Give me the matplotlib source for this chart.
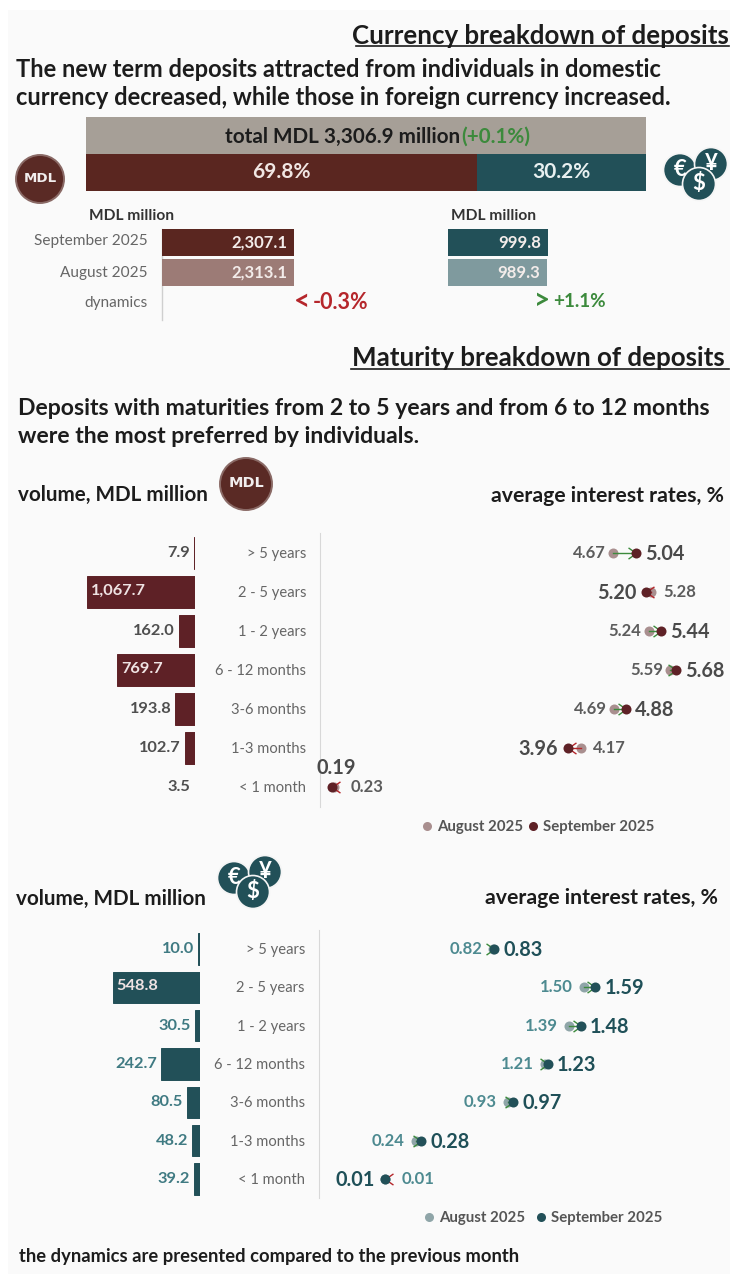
import matplotlib
matplotlib.use("Agg")
import matplotlib.pyplot as plt
from matplotlib.lines import Line2D
from matplotlib.patches import Circle, Rectangle
from matplotlib.path import Path

plt.rcParams['font.family'] = ['Lato', 'DejaVu Sans']

# ---------- data ----------
share_labels = ["MDL", "foreign currency"]
share_values = [69.8, 30.2]
total_text = "total MDL 3,306.9 million"
total_change = "(+0.1%)"
months = ["September 2025", "August 2025"]
mdl_volume = [2307.1, 2313.1]
fx_volume = [999.8, 989.3]
maturities = ["> 5 years", "2 - 5 years", "1 - 2 years", "6 - 12 months",
              "3-6 months", "1-3 months", "< 1 month"]
mdl_maturity_volume = [7.9, 1067.7, 162.0, 769.7, 193.8, 102.7, 3.5]
fx_maturity_volume = [10.0, 548.8, 30.5, 242.7, 80.5, 48.2, 39.2]
mdl_rate_aug = [4.67, 5.28, 5.24, 5.59, 4.69, 4.17, 0.23]
mdl_rate_sep = [5.04, 5.20, 5.44, 5.68, 4.88, 3.96, 0.19]
fx_rate_aug = [0.82, 1.50, 1.39, 1.21, 0.93, 0.24, 0.01]
fx_rate_sep = [0.83, 1.59, 1.48, 1.23, 0.97, 0.28, 0.01]

# ---------- colours ----------
MAROON = "#5A2620"; MAROON2 = "#5E2126"; MAROON_L = "#9C7B76"; MAROON_D = "#A98F8F"
TEAL = "#225058"; TEAL_L = "#7F9A9E"; TEAL_D = "#8FA5A8"; TAUPE = "#A69F97"
GREY = "#666666"; DARK = "#1c1c1c"; UP = "#3C8A3C"; DOWN = "#B5262B"; BG = "#FAFAFA"

W, H = 730, 1274
fig = plt.figure(figsize=(W / 100, H / 100), dpi=100, facecolor="white")


def axes_px(l, t, r, b, **kw):
    ax = fig.add_axes([l / W, 1 - b / H, (r - l) / W, (b - t) / H], **kw)
    ax.patch.set_alpha(0)
    ax.set_xticks([]); ax.set_yticks([])
    for s in ax.spines.values():
        s.set_visible(False)
    return ax


bg = axes_px(0, 0, W, H, zorder=1)
bg.set_xlim(0, W); bg.set_ylim(H, 0)
bg.add_patch(Rectangle((8, 10), W - 8, H - 10, color=BG, lw=0))


def T(x, y, s, size=12, weight="normal", color=DARK, ha="left"):
    return bg.text(x, y + 1.5, s, fontsize=size, fontweight=weight, color=color, ha=ha, va="center")


T(729, 35, "Currency breakdown of deposits", 18.6, "bold", ha="right")
bg.plot([356, 729], [46, 46], color=DARK, lw=1.2)
T(16, 68, "The new term deposits attracted from individuals in domestic", 17, "bold")
T(16, 96, "currency decreased, while those in foreign currency increased.", 17, "bold")
T(725, 357, "Maturity breakdown of deposits", 18.6, "bold", ha="right")
bg.plot([351, 729], [369, 369], color=DARK, lw=1.2)
T(18, 407, "Deposits with maturities from 2 to 5 years and from 6 to 12 months", 16.6, "bold")
T(18, 435, "were the most preferred by individuals.", 16.6, "bold")
T(18, 493, "volume, MDL million", 14.9, "bold")
T(724, 495, "average interest rates, %", 15.3, "bold", ha="right")
T(16, 897, "volume, MDL million", 14.9, "bold")
T(718, 896, "average interest rates, %", 15.3, "bold", ha="right")
T(19, 1255, "the dynamics are presented compared to the previous month", 13.2, "bold")
T(89, 214, "MDL million", 11.2, "bold", color="#333333")
T(451, 214, "MDL million", 11.2, "bold", color="#333333")
T(148, 240, months[0], 11.1, color=GREY, ha="right")
T(148, 271, months[1], 11.1, color=GREY, ha="right")
T(148, 302, "dynamics", 11.1, color=GREY, ha="right")
bg.plot([162, 162], [229, 320], color="#cfcfcf", lw=1)
T(294, 301, "<", 20, "bold", color=DOWN)
T(313, 301, "-0.3%", 15.5, "bold", color=DOWN)
T(534, 300, ">", 20, "bold", color=UP)
T(553, 300, "+1.1%", 13.6, "bold", color=UP)


def coin_mdl(x, y, r):
    bg.add_patch(Circle((x, y), r, fc="#5A2A25", ec="#8a6a66", lw=1.4))
    bg.text(x, y - r * 0.02, "MDL", color="#f2eeee", fontsize=r * 0.4, fontweight="bold",
            family="DejaVu Sans", ha="center", va="center")


def coins_fx(x, y):
    for dx, dy, ch in [(0, 0, "€"), (31, -6, "¥"), (19, 14, "$")]:
        bg.add_patch(Circle((x + dx, y + dy), 16.5, fc=TEAL, ec="#f5f5f5", lw=1.2))
        bg.text(x + dx, y + dy, ch, color="white", fontsize=16, fontweight="bold",
                ha="center", va="center")


coin_mdl(40, 179, 24)
coin_mdl(246, 484, 26)
coins_fx(680, 170)
coins_fx(234, 878)

# ---------- currency share ----------
ax = axes_px(86, 117, 646, 191, zorder=2)
ax.barh([0], [sum(share_values)], height=1, color=TAUPE)
ax.barh([1], [share_values[0]], height=1, color=MAROON)
ax.barh([1], [share_values[1]], left=[share_values[0]], height=1, color=TEAL)
ax.set_xlim(0, sum(share_values)); ax.set_ylim(1.5, -0.5)
ax.text(share_values[0] / 2, 1, f"{share_values[0]}%", color="#F1E6E3", fontsize=15, fontweight="bold",
        ha="center", va="center")
ax.text(share_values[0] + share_values[1] / 2, 1, f"{share_values[1]}%", color="#E8F0F0", fontsize=15,
        fontweight="bold", ha="center", va="center")
top = axes_px(0, 0, W, H, zorder=5)
top.set_xlim(0, W); top.set_ylim(H, 0)
top.text(460, 137, total_text, fontsize=14.9, fontweight="bold", color=DARK, ha="right", va="center")
top.text(461, 137, total_change, fontsize=14.9, fontweight="bold", color=UP, ha="left", va="center")


# ---------- month bars ----------
def month_bars(l, r, xmax, vals, cols):
    a = axes_px(l, 227.5, r, 287.5, zorder=2)
    a.barh([0, 1], vals, height=0.9, color=cols)
    a.set_xlim(0, xmax); a.set_ylim(1.5, -0.5)
    for i, v in enumerate(vals):
        a.annotate(f"{v:,.1f}", (v, i), xytext=(-7, 0), textcoords="offset pixels", ha="right",
                   va="center", color="#F3ECEA", fontsize=12, fontweight="bold")


month_bars(162, 430, 4685, mdl_volume, [MAROON, MAROON_L])
month_bars(448, 640, 1920, fx_volume, [TEAL, TEAL_L])


# ---------- maturity volume ----------
def vol_bars(t, b, r, xmax, vals, col, out_col, inside, cat_dx):
    a = axes_px(8, t, r, b, zorder=2)
    y = list(range(len(vals)))
    a.barh(y, vals, height=0.82, color=col, edgecolor=col, lw=0.7)
    a.set_xlim(xmax, 0); a.set_ylim(len(vals) - 0.5, -0.5)
    for i, v in enumerate(vals):
        if v in inside:
            a.annotate(f"{v:,.1f}", (v, i), xytext=(4, 1), textcoords="offset pixels", ha="left",
                       va="center", color="#EFE3E3", fontsize=11.8, fontweight="bold")
        else:
            a.annotate(f"{v:,.1f}", (v, i), xytext=(-4, 0), textcoords="offset pixels", ha="right",
                       va="center", color=out_col, fontsize=11.8, fontweight="bold")
        a.annotate(maturities[i], (0, i), xytext=(cat_dx, -1), textcoords="offset pixels", ha="right",
                   va="center", color=GREY, fontsize=10.6)


vol_bars(533.5, 806.5, 195, 1841, mdl_maturity_volume, MAROON2, "#4f4f4f", [1067.7, 769.7], 111)
vol_bars(930, 1198, 200, 1206, fx_maturity_volume, TEAL, "#3f7a82", [548.8], 105)

# ---------- interest rates ----------
CHEVRON = Path([(-1, 0.7), (0, 0), (-1, -0.7)], [Path.MOVETO, Path.LINETO, Path.LINETO])
CHEVRON_L = Path([(1, 0.7), (0, 0), (1, -0.7)], [Path.MOVETO, Path.LINETO, Path.LINETO])


def rates(t, b, l, x0, x1, aug, sep, c_aug, c_sep, t_aug, t_sep, left_gap, above=(), far=()):
    a = axes_px(l, t, W, b, zorder=3)
    a.spines["left"].set_visible(True)
    a.spines["left"].set_color("#d8d8d8")
    a.set_xlim(x0, x1); a.set_ylim(len(aug) - 0.5, -0.5)
    y = list(range(len(aug)))
    a.scatter(aug, y, s=52, color=c_aug, lw=0, zorder=3)
    for i, (p, q) in enumerate(zip(aug, sep)):
        c = UP if q > p else DOWN
        a.plot([p, q], [i, i], color=c, lw=1, zorder=3.5)
        a.plot([q], [i], marker=CHEVRON if q > p else CHEVRON_L, ms=11.5, mew=1, mec=c, mfc="none", ls="",
               zorder=3.5)
    a.scatter(sep, y, s=52, color=c_sep, lw=0, zorder=4)
    for i, (p, q) in enumerate(zip(aug, sep)):
        sep_right = q > p
        if i in above:
            xy, ha = (4, 19), "center"
        else:
            xy, ha = (9 if sep_right else -10, -1), ("left" if sep_right else "right")
        a.annotate(f"{q:.2f}", (q, i), xytext=xy, textcoords="offset pixels",
                   ha=ha, va="center", color=t_sep, fontsize=14.3, fontweight="bold")
        gap = 16 if i in far else 12
        a.annotate(f"{p:.2f}", (p, i), xytext=(-left_gap if sep_right else gap, 0), textcoords="offset pixels",
                   ha="right" if sep_right else "left", va="center", color=t_aug, fontsize=12, fontweight="bold")
    return a


ra = rates(533.5, 806.5, 320, 0, 410 / 62.7, mdl_rate_aug, mdl_rate_sep, MAROON_D, MAROON2, "#5c5c5c", "#4a4a4a",
           7, above=(6,), far=(6,))
rb = rates(930, 1198, 319, -65 / 133, 346 / 133, fx_rate_aug, fx_rate_sep, TEAL_D, TEAL, "#4d8a90", "#1f5058",
           11, far=(6,))


def legend(a, ax_x, ax_y, c1, c2, colsp):
    h = [Line2D([], [], ls="", marker="o", ms=6.5, color=c1, mew=0),
         Line2D([], [], ls="", marker="o", ms=6.5, color=c2, mew=0)]
    a.legend(h, ["August 2025", "September 2025"], loc="center left", frameon=False,
             bbox_to_anchor=(ax_x / W, 1 - ax_y / H), bbox_transform=fig.transFigure, ncol=2,
             labelcolor="#555555", handlelength=1, handletextpad=0.17, columnspacing=colsp,
             borderpad=0, borderaxespad=0, prop=dict(weight="bold", size=10.8))


legend(ra, 419.5, 827, MAROON_D, MAROON2, 0.17)
legend(rb, 421.5, 1218, TEAL_D, TEAL, 0.57)

fig.savefig("out.png", dpi=100, facecolor="white")
